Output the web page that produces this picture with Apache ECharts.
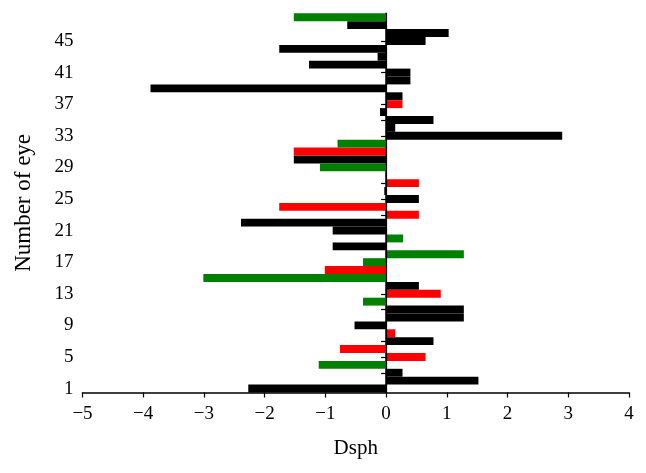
<!DOCTYPE html>
<html>
<head>
<meta charset="utf-8">
<script src="https://cdn.jsdelivr.net/npm/echarts@6/dist/echarts.min.js"></script>
<style>
html,body{margin:0;padding:0;background:#fff;}
#chart{width:646px;height:473px;}
</style>
</head>
<body>
<div id="chart"></div>
<script>
// Eye numbers (categories, bottom to top)
const eyes = ['1','2','3','4','5','6','7','8','9','10','11','12','13','14','15','16','17','18','19','20','21','22','23','24','25','26','27','28','29','30','31','32','33','34','35','36','37','38','39','40','41','42','43','44','45','46','47','48'];
// Dsph value for each eye
const dsph = [-2.27, 1.52, 0.27, -1.11, 0.65, -0.76, 0.78, 0.15, -0.52, 1.28,
              1.28, -0.38, 0.90, 0.54, -3.01, -1.01, -0.38, 1.28, -0.88, 0.28,
              -0.88, -2.39, 0.54, -1.76, 0.54, -0.03, 0.54, null, -1.09, -1.52,
              -1.52, -0.80, 2.90, 0.15, 0.78, -0.10, 0.27, 0.27, -3.88, 0.40,
              0.40, -1.27, -0.14, -1.76, 0.65, 1.03, -0.64, -1.52];
// Group of each eye: k = black, r = red, g = green
const group = ['k','k','k','g','r','r','k','r','k','k',
               'k','g','r','k','g','r','g','g','k','g',
               'k','k','r','r','k','k','r','k','g','k',
               'r','g','k','k','k','k','r','k','k','k',
               'k','k','k','k','k','k','k','g'];
const xTicks = [-5, -4, -3, -2, -1, 0, 1, 2, 3, 4];

const groupColors = {k: '#000000', r: '#ff0000', g: '#008000'};
const font = 'Liberation Serif';

function seriesFor(key) {
  return {
    type: 'bar',
    stack: 'all',
    barCategoryGap: '0%',
    itemStyle: {color: groupColors[key]},
    data: dsph.map((v, i) => (group[i] === key && v !== null) ? v : null),
    animation: false
  };
}
const series = ['k', 'r', 'g'].map(seriesFor);
series.push({
  type: 'line', data: [], silent: true,
  markLine: {
    silent: true, symbol: ['none', 'none'], animation: false,
    label: {show: false},
    lineStyle: {color: '#000', width: 1.2, type: 'solid'},
    data: [{xAxis: 0}]
  }
});

const chart = echarts.init(document.getElementById('chart'), null, {renderer: 'canvas'});
chart.setOption({
  backgroundColor: '#fff',
  animation: false,
  grid: {left: 82.5, right: 17, top: 13.3, bottom: 80.5, containLabel: false},
  xAxis: {
    type: 'value',
    min: xTicks[0], max: xTicks[xTicks.length - 1], interval: 1,
    name: 'Dsph', nameLocation: 'middle', nameGap: 45,
    nameTextStyle: {fontFamily: font, fontSize: 21, color: '#000'},
    axisLine: {show: true, onZero: false, lineStyle: {color: '#000', width: 1.5}},
    axisTick: {show: true, inside: false, length: 5, lineStyle: {color: '#000', width: 1.2}},
    axisLabel: {
      fontFamily: font, fontSize: 19, color: '#000', margin: 12,
      formatter: v => v < 0 ? '\u2212' + Math.abs(v) : String(v)
    },
    splitLine: {show: false}
  },
  yAxis: {
    type: 'category',
    data: eyes,
    boundaryGap: true,
    name: 'Number of eye', nameLocation: 'middle', nameGap: 47, nameRotate: 90,
    nameTextStyle: {fontFamily: font, fontSize: 23, color: '#000'},
    axisLine: {show: true, lineStyle: {color: '#000', width: 1.5}},
    axisTick: {show: true, inside: false, length: 5, alignWithLabel: true, interval: 1, lineStyle: {color: '#000', width: 1.2}},
    axisLabel: {fontFamily: font, fontSize: 19, color: '#000', margin: 9, interval: 3},
    splitLine: {show: false}
  },
  series: series
});
</script>
</body>
</html>
